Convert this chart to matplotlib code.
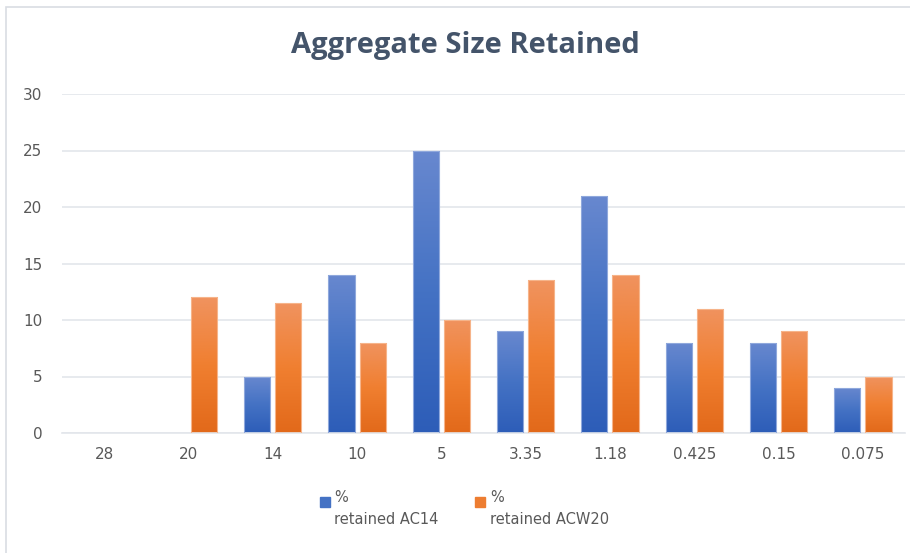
import matplotlib
matplotlib.use('Agg')
import numpy as np
import matplotlib.pyplot as plt
from matplotlib.colors import LinearSegmentedColormap
from matplotlib.patches import Rectangle

# sieve sizes (mm) and percent retained on each
sizes = ['28', '20', '14', '10', '5', '3.35', '1.18', '0.425', '0.15', '0.075']
ac14 = [0, 0, 5, 14, 25, 9, 21, 8, 8, 4]
acw20 = [0, 12, 11.5, 8, 10, 13.5, 14, 11, 9, 5]
labels = ['%\nretained AC14', '%\nretained ACW20']

blue_cm = LinearSegmentedColormap.from_list('b', ['#2D5DB8', '#4472C4', '#6888CF'])
orange_cm = LinearSegmentedColormap.from_list('o', ['#E2691A', '#F07F30', '#F0935F'])
text_col = '#595959'

fig = plt.figure(figsize=(9.1, 5.53), dpi=100)
fig.patch.set_facecolor('white')
ax = fig.add_axes([62 / 910, 1 - 433 / 553, 843 / 910, 339 / 553])

x = np.arange(len(sizes))
w = 0.31
off = 0.185
grad = np.linspace(0, 1, 256).reshape(-1, 1)


def gradient_bars(xs, vals, cmap, edge):
    # each bar gets its own light-top / dark-bottom fill
    for xi, h in zip(xs, vals):
        if h <= 0:
            continue
        b = ax.bar(xi, h, w, color='none', edgecolor=edge, linewidth=0.8, zorder=3)[0]
        x0 = b.get_x()
        im = ax.imshow(grad, cmap=cmap, origin='lower', aspect='auto',
                       extent=(x0, x0 + w, 0, h), zorder=2)
        im.set_clip_path(b)


gradient_bars(x - off, ac14, blue_cm, '#8FA8DC')
gradient_bars(x + off, acw20, orange_cm, '#F6B48A')

ax.set_xlim(-0.5, len(sizes) - 0.5)
ax.set_ylim(0, 30)
ax.set_yticks(range(0, 31, 5))
ax.set_xticks(x)
ax.set_xticklabels(sizes)
ax.grid(axis='y', color='#E3E6EB', linewidth=1.2, zorder=0)
ax.set_axisbelow(True)
for s in ['top', 'right', 'left']:
    ax.spines[s].set_visible(False)
ax.spines['bottom'].set_color('#E3E6EB')
ax.spines['bottom'].set_linewidth(1.2)
ax.tick_params(length=0, labelsize=11, colors=text_col, pad=14)
ax.tick_params(axis='x', pad=10)

fig.text(465 / 910, 1 - 46 / 553, 'Aggregate Size Retained', ha='center', va='center',
         fontsize=21, fontweight='bold', color='#44546A', family='Open Sans')

# legend below the axes
fig.patches.append(Rectangle((320 / 910, 1 - 507 / 553), 10 / 910, 10 / 553,
                             transform=fig.transFigure, color='#4472C4'))
fig.patches.append(Rectangle((475 / 910, 1 - 507 / 553), 10 / 910, 10 / 553,
                             transform=fig.transFigure, color='#ED7D31'))
fig.text(334 / 910, 1 - 490 / 553, labels[0], ha='left', va='top', fontsize=10.5,
         color=text_col, linespacing=1.6)
fig.text(490 / 910, 1 - 490 / 553, labels[1], ha='left', va='top', fontsize=10.5,
         color=text_col, linespacing=1.6)

# chart frame
fig.patches.append(Rectangle((6 / 910, -0.01), 1.02, 1 - 7 / 553 + 0.01,
                             transform=fig.transFigure, fill=False,
                             edgecolor='#D9DDE3', linewidth=1.2))

fig.savefig('out.png', dpi=100)
